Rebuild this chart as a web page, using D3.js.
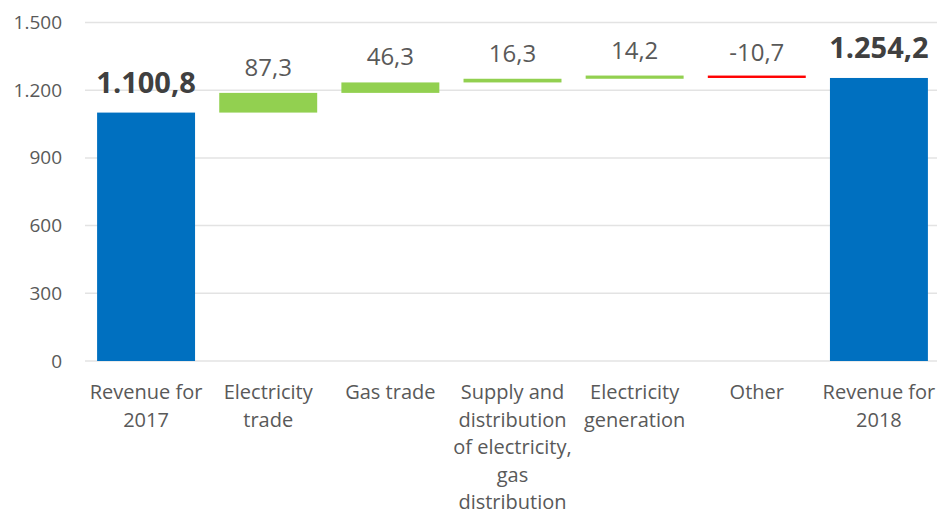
<!DOCTYPE html>
<html>
<head>
<meta charset="utf-8">
<script src="https://cdn.jsdelivr.net/npm/d3@7"></script>
<style>
  body { margin: 0; background: #fff; }
  svg { display: block; font-family: "Open Sans", "Noto Sans", sans-serif; }
</style>
</head>
<body>
<svg id="chart"></svg>
<script>
const categories = [
  "Revenue for 2017",
  "Electricity trade",
  "Gas trade",
  "Supply and distribution of electricity, gas distribution",
  "Electricity generation",
  "Other",
  "Revenue for 2018"
];
// first and last are totals, the rest are changes
const values = [1100.8, 87.3, 46.3, 16.3, 14.2, -10.7, 1254.2];
const kinds = ["total", "delta", "delta", "delta", "delta", "delta", "total"];
const yTicks = [0, 300, 600, 900, 1200, 1500];

const width = 937, height = 516;
const margin = { top: 22.5, right: -3, bottom: 155, left: 85 };

const locale = d3.formatLocale({ decimal: ",", thousands: ".", grouping: [3], currency: ["", ""], minus: "-" });
const fmtTick = locale.format(",.0f");
const fmtVal = locale.format(",.1f");

// build waterfall steps
let running = 0;
const steps = categories.map((c, i) => {
  let start, end;
  if (kinds[i] === "total") {
    start = 0; end = values[i]; running = values[i];
  } else {
    start = running; end = running + values[i]; running = end;
  }
  return { cat: c, value: values[i], kind: kinds[i], start, end };
});

const svg = d3.select("#chart").attr("width", width).attr("height", height);

const x = d3.scaleBand()
  .domain(categories)
  .range([margin.left, width - margin.right])
  .paddingInner(0.198)
  .paddingOuter(0.099);

const y = d3.scaleLinear()
  .domain([0, 1500])
  .range([height - margin.bottom, margin.top]);

// gridlines
svg.append("g")
  .selectAll("line")
  .data(yTicks)
  .join("line")
  .attr("x1", margin.left)
  .attr("x2", width)
  .attr("y1", d => y(d))
  .attr("y2", d => y(d))
  .attr("stroke", "#e3e3e3")
  .attr("stroke-width", 1.5);

// y axis labels
const yAxis = svg.append("g")
  .attr("transform", `translate(${margin.left},0)`)
  .call(d3.axisLeft(y).tickValues(yTicks).tickFormat(fmtTick).tickSize(0).tickPadding(23));
yAxis.select(".domain").remove();
yAxis.selectAll("text")
  .attr("fill", "#595959")
  .style("font-size", "19px")
  .style("font-family", "\"Open Sans\", sans-serif");

const color = d => d.kind === "total" ? "#0070C0" : (d.value >= 0 ? "#92D050" : "#FF0000");

// bars
svg.append("g")
  .selectAll("rect")
  .data(steps)
  .join("rect")
  .attr("x", d => x(d.cat))
  .attr("width", x.bandwidth())
  .attr("y", d => y(Math.max(d.start, d.end)))
  .attr("height", d => Math.abs(y(d.start) - y(d.end)))
  .attr("fill", color);

// value labels
svg.append("g")
  .selectAll("text")
  .data(steps)
  .join("text")
  .attr("x", d => x(d.cat) + x.bandwidth() / 2)
  .attr("y", d => d.kind === "total" ? y(d.end) - 19.5 : y(d.end) - 17)
  .attr("text-anchor", "middle")
  .attr("fill", d => d.kind === "total" ? "#404040" : "#595959")
  .style("font-size", d => d.kind === "total" ? "29px" : "24px")
  .style("font-weight", d => d.kind === "total" ? "bold" : "normal")
  .text(d => fmtVal(d.value));

// category labels, wrapped to the band step
const catLabels = svg.append("g")
  .selectAll("text")
  .data(categories)
  .join("text")
  .attr("x", d => x(d) + x.bandwidth() / 2)
  .attr("y", 399)
  .attr("text-anchor", "middle")
  .attr("fill", "#595959")
  .style("font-size", "20px")
  .text(d => d);

function wrap(text, w) {
  text.each(function () {
    const t = d3.select(this);
    const words = t.text().split(/\s+/);
    const cx = t.attr("x");
    t.text(null);
    let line = [];
    let tspan = t.append("tspan").attr("x", cx).attr("dy", 0);
    words.forEach(word => {
      line.push(word);
      tspan.text(line.join(" "));
      if (tspan.node().getComputedTextLength() > w && line.length > 1) {
        line.pop();
        tspan.text(line.join(" "));
        line = [word];
        tspan = t.append("tspan").attr("x", cx).attr("dy", 27.6).text(word);
      }
    });
  });
}
catLabels.call(wrap, x.step());
</script>
</body>
</html>
